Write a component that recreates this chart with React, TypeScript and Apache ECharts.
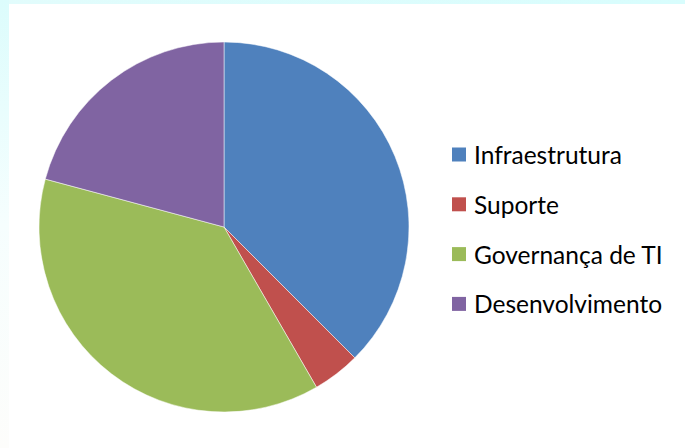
import React, { useEffect, useRef } from "react";
import * as echarts from "echarts";

const categories = ["Infraestrutura", "Suporte", "Governança de TI", "Desenvolvimento"];
const values = [9, 1, 9, 5];
const colors = ["#4F81BD", "#C0504D", "#9BBB59", "#8064A2"];

export default function App() {
  const ref = useRef<HTMLDivElement>(null);
  useEffect(() => {
    if (!ref.current) return;
    const chart = echarts.init(ref.current, undefined, { renderer: "svg" });
    chart.setOption({
      animation: false,
      backgroundColor: "#ffffff",
      color: colors,
      graphic: [
        {
          type: "rect",
          shape: { x: 0, y: 0, width: 685, height: 4 },
          style: {
            fill: new echarts.graphic.LinearGradient(0, 0, 1, 0, [
              { offset: 0, color: "#e2fcfc" },
              { offset: 1, color: "#d8fdfd" },
            ]),
          },
          silent: true,
        },
        {
          type: "rect",
          shape: { x: 0, y: 0, width: 9, height: 448 },
          style: {
            fill: new echarts.graphic.LinearGradient(0, 0, 0, 1, [
              { offset: 0, color: "#dcfcfc" },
              { offset: 0.5, color: "#f6fefe" },
              { offset: 1, color: "#fdfdfb" },
            ]),
          },
          silent: true,
        },
      ],
      legend: {
        orient: "vertical",
        left: 452,
        top: 142,
        padding: 0,
        itemWidth: 14,
        itemHeight: 14,
        itemGap: 24.8,
        icon: "rect",
        data: categories,
        itemStyle: { borderWidth: 0 },
        textStyle: {
          fontFamily: "Lato",
          fontSize: 24.5,
          lineHeight: 24,
          color: "#000000",
          padding: [0, 0, 0, 3],
        },
      },
      series: [
        {
          type: "pie",
          center: [224, 227],
          radius: 185,
          startAngle: 90,
          clockwise: true,
          label: { show: false },
          labelLine: { show: false },
          emphasis: { disabled: true },
          itemStyle: { borderColor: "#ffffff", borderWidth: 0.5 },
          data: categories.map((name, i) => ({ name, value: values[i] })),
        },
      ],
    });
    return () => chart.dispose();
  }, []);
  return (
    <div
      ref={ref}
      style={{ position: "fixed", left: 0, top: 0, width: 685, height: 448 }}
    />
  );
}
